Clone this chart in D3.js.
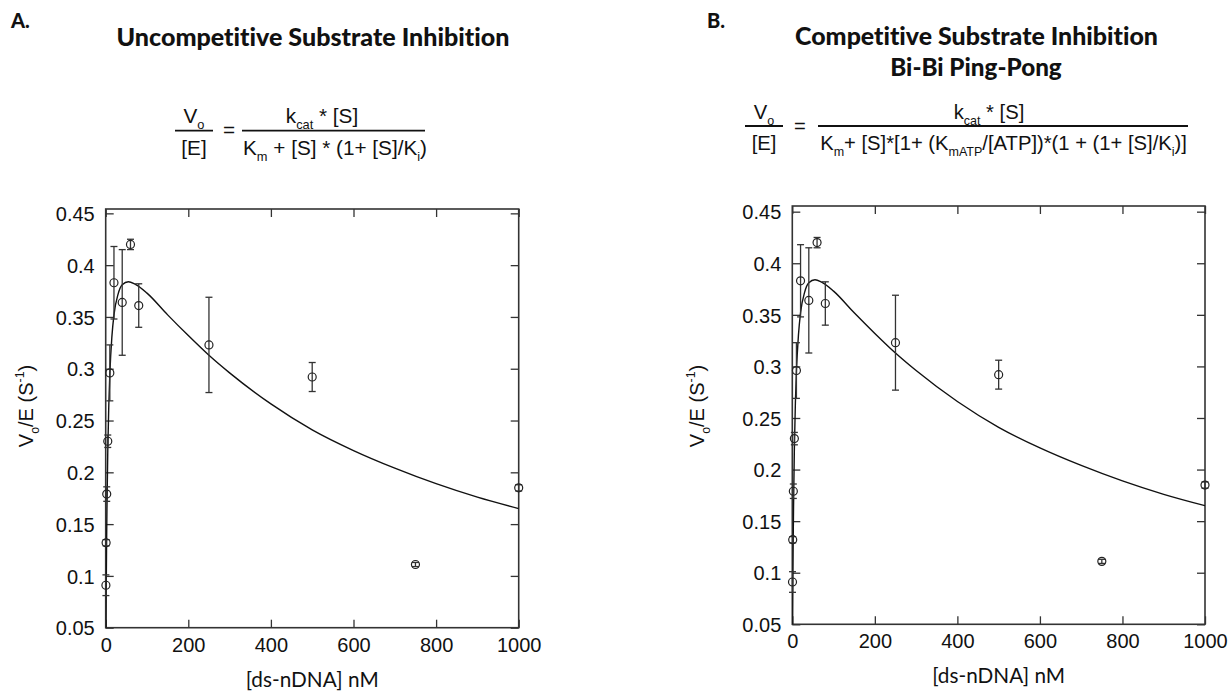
<!DOCTYPE html>
<html>
<head>
<meta charset="utf-8">
<script src="https://cdn.jsdelivr.net/npm/d3@7"></script>
<style>
  html, body { margin: 0; padding: 0; background: #fff; }
  svg { display: block; }
  text { font-variant-ligatures: none; font-feature-settings: "liga" 0, "clig" 0; }
</style>
</head>
<body>
<svg id="chart" width="1228" height="696"></svg>
<script>
// ---------------- data ----------------
const xTicks = [0, 200, 400, 600, 800, 1000];
const yTicks = [0.05, 0.1, 0.15, 0.2, 0.25, 0.3, 0.35, 0.4, 0.45];

// measured points: [ds-nDNA] (nM), Vo/E (s^-1), error
const conc    = [0.5, 1, 2.5, 5, 10, 20, 40, 60, 80, 250, 500, 750, 1000];
const rate    = [0.091, 0.132, 0.179, 0.230, 0.296, 0.383, 0.364, 0.420, 0.361, 0.323, 0.292, 0.111, 0.185];
const rateErr = [0.010, 0.003, 0.007, 0.006, 0.027, 0.035, 0.051, 0.005, 0.021, 0.046, 0.014, 0.002, 0.003];

// fitted curve
const fitConc = [0, 0.5, 1, 2, 3, 5, 7.5, 10, 15, 20, 30, 40, 55, 70, 100, 150, 200, 250, 300, 400, 500, 600, 700, 800, 900, 1000];
const fitRate = [0, 0.039, 0.072, 0.124, 0.164, 0.220, 0.265, 0.295, 0.331, 0.352, 0.372, 0.381, 0.384, 0.382, 0.373, 0.352, 0.332, 0.313, 0.296, 0.266, 0.241, 0.221, 0.204, 0.189, 0.176, 0.165];

const panelLetters = ["A.", "B."];
const panelTitles = [["Uncompetitive Substrate Inhibition"], ["Competitive Substrate Inhibition", "Bi-Bi Ping-Pong"]];
const xTitle = "[ds-nDNA] nM";

// ---------------- helpers ----------------
const svg = d3.select("#chart");
const SANS = "'Liberation Sans', Arial, Helvetica, sans-serif";
const MYR = "Lato, 'Open Sans', sans-serif";

function rich(g, parts, attrs) {
  const t = g.append("text");
  Object.entries(attrs).forEach(([k, v]) => t.attr(k, v));
  let shift = 0; // current offset in base em
  parts.forEach(([s, kind]) => {
    const sp = t.append("tspan").text(s);
    let target = kind === "sub" ? 0.3 : kind === "sup" ? -0.45 : 0;
    const fs = kind === "n" ? 1 : 0.62;
    if (kind !== "n") sp.attr("font-size", "0.62em");
    const d = target - shift;
    if (Math.abs(d) > 1e-6) sp.attr("dy", (d / fs).toFixed(3) + "em");
    shift = target;
  });
  return t;
}
function fitWidth(t, w) {
  const fs = parseFloat(t.attr("font-size"));
  const m = t.node().getBBox().width;
  t.attr("font-size", (fs * w / m).toFixed(2));
  return fs * w / m;
}

// ---------------- panels ----------------
const panels = [
  { x0: 105.7, x1: 518.7, yTop: 209, yBot: 627.7, yMax: 0.4542, ylabX: 33, ylabY: 406, letterX: 11 },
  { x0: 792.3, x1: 1205, yTop: 206, yBot: 624.3, yMax: 0.4555, ylabX: 704, ylabY: 406, letterX: 707 }
];

panels.forEach((p, i) => {
  const g = svg.append("g");
  const x = d3.scaleLinear().domain([0, 1000]).range([p.x0, p.x1]);
  const y = d3.scaleLinear().domain([0.05, p.yMax]).range([p.yBot, p.yTop]);

  const clipId = "clip" + i;
  svg.append("defs").append("clipPath").attr("id", clipId)
    .append("rect").attr("x", p.x0).attr("y", p.yTop).attr("width", p.x1 - p.x0).attr("height", p.yBot - p.yTop);

  // axes with inward ticks on four sides
  const bottom = g.append("g").attr("transform", `translate(0,${p.yBot})`)
    .call(d3.axisBottom(x).tickValues(xTicks).tickSizeInner(-8).tickSizeOuter(0).tickPadding(0).tickFormat(d3.format("d")));
  const top = g.append("g").attr("transform", `translate(0,${p.yTop})`)
    .call(d3.axisTop(x).tickValues(xTicks).tickSizeInner(-8).tickSizeOuter(0).tickFormat(""));
  const left = g.append("g").attr("transform", `translate(${p.x0},0)`)
    .call(d3.axisLeft(y).tickValues(yTicks).tickSizeInner(-8).tickSizeOuter(0).tickPadding(0).tickFormat(d3.format("~g")));
  const right = g.append("g").attr("transform", `translate(${p.x1},0)`)
    .call(d3.axisRight(y).tickValues(yTicks).tickSizeInner(-8).tickSizeOuter(0).tickFormat(""));
  [bottom, top, left, right].forEach(a => {
    a.select(".domain").remove();
    a.selectAll(".tick line").attr("stroke", "#333").attr("stroke-width", 1.3);
  });
  bottom.selectAll(".tick text")
    .attr("font-family", SANS).attr("font-size", 20).attr("fill", "#111")
    .attr("y", 24).attr("dy", 0);
  left.selectAll(".tick text")
    .attr("font-family", SANS).attr("font-size", 20).attr("fill", "#111")
    .attr("x", -11).attr("dy", "0.36em");

  g.append("rect").attr("x", p.x0).attr("y", p.yTop)
    .attr("width", p.x1 - p.x0).attr("height", p.yBot - p.yTop)
    .attr("fill", "none").attr("stroke", "#333").attr("stroke-width", 1.6);

  // fitted curve
  const line = d3.line().x((d, k) => x(fitConc[k])).y(d => y(d)).curve(d3.curveMonotoneX);
  g.append("path").datum(fitRate).attr("d", line)
    .attr("clip-path", `url(#${clipId})`)
    .attr("fill", "none").attr("stroke", "#111").attr("stroke-width", 1.4);

  // error bars
  const eb = g.append("g").attr("stroke", "#333").attr("stroke-width", 1.3);
  conc.forEach((c, k) => {
    const cx = x(c), hi = y(rate[k] + rateErr[k]), lo = y(rate[k] - rateErr[k]);
    eb.append("line").attr("x1", cx).attr("x2", cx).attr("y1", hi).attr("y2", lo);
    eb.append("line").attr("x1", cx - 3.5).attr("x2", cx + 3.5).attr("y1", hi).attr("y2", hi);
    eb.append("line").attr("x1", cx - 3.5).attr("x2", cx + 3.5).attr("y1", lo).attr("y2", lo);
  });
  // points
  g.append("g").selectAll("circle").data(rate).join("circle")
    .attr("cx", (d, k) => x(conc[k])).attr("cy", d => y(d)).attr("r", 4)
    .attr("fill", "none").attr("stroke", "#222").attr("stroke-width", 1.2);

  // axis titles
  const xt = g.append("text").attr("x", (p.x0 + p.x1) / 2).attr("y", p.yBot + 59)
    .attr("text-anchor", "middle").attr("font-family", MYR).attr("font-size", 18).attr("fill", "#111").text(xTitle);
  fitWidth(xt, 133);

  rich(g, [["V", "n"], ["o", "sub"], ["/E (S", "n"], ["-1", "sup"], [")", "n"]], {
    transform: `translate(${p.ylabX},${p.ylabY}) rotate(-90)`,
    "text-anchor": "middle", "font-family": SANS, "font-size": 20, fill: "#111"
  });

  // panel letter
  svg.append("text").attr("x", p.letterX).attr("y", 28)
    .attr("font-family", MYR).attr("font-weight", 900).attr("font-size", 20).attr("fill", "#111")
    .text(panelLetters[i]);
});

// titles
function title(txt, cx, by, w) {
  const t = svg.append("text").attr("x", cx).attr("y", by).attr("text-anchor", "middle")
    .attr("font-family", MYR).attr("font-weight", 900).attr("font-size", 20).attr("fill", "#111").text(txt);
  fitWidth(t, w);
}
title(panelTitles[0][0], 313, 45.5, 393);
title(panelTitles[1][0], 976.5, 45, 363);
title(panelTitles[1][1], 976, 75.5, 172);

// ---------------- equations ----------------
function equation(cfg) {
  const g = svg.append("g").attr("fill", "#111");
  const base = { "text-anchor": "middle", "font-family": SANS, "font-size": 18 };
  const den = rich(g, cfg.den, Object.assign({ x: cfg.denX, y: cfg.denY }, base));
  const fs = fitWidth(den, cfg.denW);
  const b2 = Object.assign({}, base, { "font-size": fs.toFixed(2) });
  rich(g, cfg.num, Object.assign({ x: cfg.numX, y: cfg.numY }, b2));
  rich(g, [["V", "n"], ["o", "sub"]], Object.assign({ x: cfg.lx, y: cfg.numY }, b2));
  rich(g, [["[E]", "n"]], Object.assign({ x: cfg.lx, y: cfg.denY }, b2));
  rich(g, [["=", "n"]], Object.assign({ x: cfg.eqX, y: cfg.barY + 6.5 }, b2));
  g.append("line").attr("x1", cfg.lb[0]).attr("x2", cfg.lb[1]).attr("y1", cfg.barY).attr("y2", cfg.barY)
    .attr("stroke", "#111").attr("stroke-width", 1.8);
  g.append("line").attr("x1", cfg.mb[0]).attr("x2", cfg.mb[1]).attr("y1", cfg.barY).attr("y2", cfg.barY)
    .attr("stroke", "#111").attr("stroke-width", 1.8);
}
equation({
  num: [["k", "n"], ["cat", "sub"], [" * [S]", "n"]],
  den: [["K", "n"], ["m", "sub"], [" + [S] * (1+ [S]/K", "n"], ["i", "sub"], [")", "n"]],
  numX: 322, numY: 123, denX: 335, denY: 155, denW: 184,
  lx: 194, eqX: 229, barY: 130.7, lb: [175, 213], mb: [242, 425]
});
equation({
  num: [["k", "n"], ["cat", "sub"], [" * [S]", "n"]],
  den: [["K", "n"], ["m", "sub"], ["+ [S]*[1+ (K", "n"], ["mATP", "sub"], ["/[ATP])*(1 + (1+ [S]/K", "n"], ["i", "sub"], [")]", "n"]],
  numX: 989, numY: 119, denX: 1003.5, denY: 150, denW: 367,
  lx: 764, eqX: 800, barY: 126, lb: [745, 783], mb: [818, 1188]
});
</script>
</body>
</html>
